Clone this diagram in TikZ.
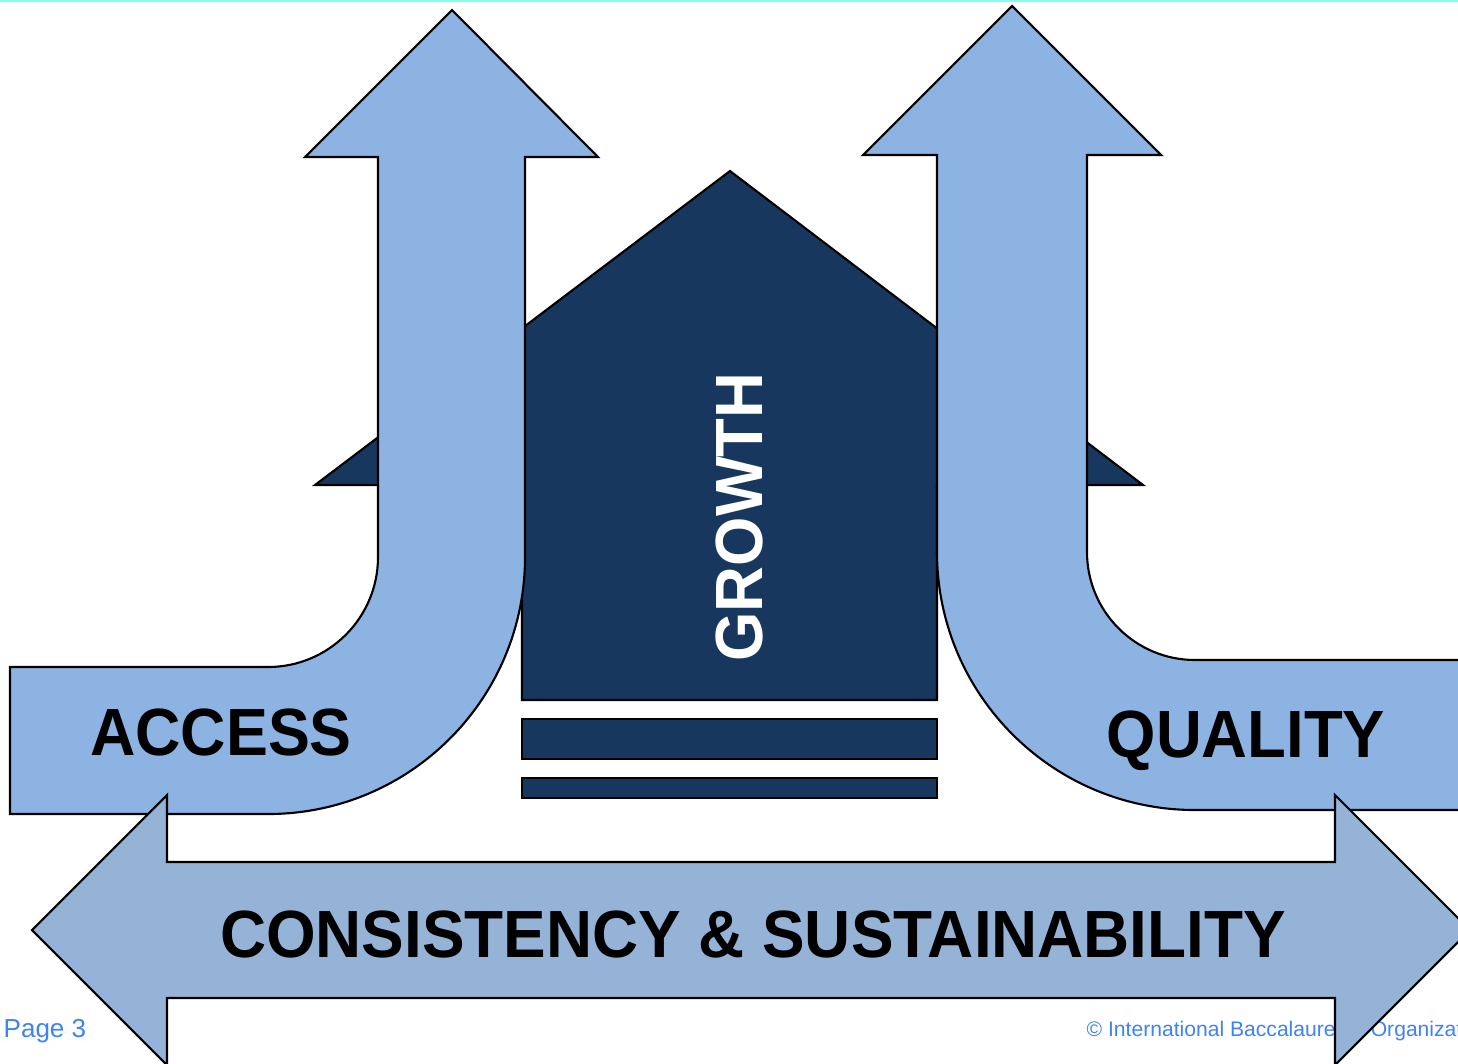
\documentclass[tikz,border=0pt]{standalone}
\usepackage{fontspec}
\setmainfont{Liberation Sans}
\usetikzlibrary{calc}
\definecolor{arrowblue}{HTML}{8DB3E2}
\definecolor{bandblue}{HTML}{95B3D7}
\definecolor{housenavy}{HTML}{18375E}
\definecolor{topcyan}{RGB}{127,255,240}
\definecolor{footblue}{RGB}{62,130,247}

\begin{document}
\begin{tikzpicture}[x=0.01cm, y=-0.01cm,
	outline/.style={draw=black, line width=0.6pt, line join=miter},
	word/.style={font=\fontsize{19}{19}\selectfont\bfseries, inner sep=0pt, anchor=base},
	foot/.style={font=\fontsize{7.4}{8}\selectfont, text=footblue, inner sep=0pt, anchor=base west}]
	\useasboundingbox (0,0) rectangle (1458,1063);

	\coordinate							(Apex)		at	(730,171);
	\coordinate							(AccessTip)	at	(452,10);
	\coordinate							(QualityTip)	at	(1012,6);
	\coordinate							(LeftTip)	at	(32,930);
	\coordinate							(RightTip)	at	(1470,930);

	\fill[topcyan] (0,0) rectangle (1458,2);

	\node[foot] (page) at (3,1037) {Page 3};
	\node[foot, font=\fontsize{6}{7}\selectfont] (copy) at (1086,1036) {© International Baccalaureate Organization};

	% house and steps
	\draw[outline, fill=housenavy] (315,485) -- (Apex) -- (1143,485) -- (937,485) -- (937,700) -- (522,700) -- (522,485) -- cycle;
	\draw[outline, fill=housenavy] (522,719) rectangle (937,759);
	\draw[outline, fill=housenavy] (522,778) rectangle (937,798);

	% access and quality
	\draw[outline, fill=arrowblue] (10,667) -- (268,667) arc[start angle=90, end angle=0, radius=110]
		-- (378,157) -- (305,157) -- (AccessTip) -- (598,157) -- (525,157)
		-- (525,557) arc[start angle=0, end angle=90, radius=257] -- (10,814) -- cycle;
	\draw[outline, fill=arrowblue] (1470,660) -- (1195,660) arc[start angle=90, end angle=180, radius=108]
		-- (1087,155) -- (1161,155) -- (QualityTip) -- (863,155) -- (937,155)
		-- (937,552) arc[start angle=180, end angle=90, radius=258] -- (1470,810) -- cycle;

	\node[word, text=white, rotate=90] (growth) at (762,517) {\scalebox{0.95}[1]{GROWTH}};
	\node[word] (access) at (221,755) {\scalebox{0.94}[1]{ACCESS}};
	\node[word] (quality) at (1246,757) {\scalebox{0.95}[1]{QUALITY}};

	% consistency band
	\draw[outline, fill=bandblue] (LeftTip) -- (167,795) -- (167,862) -- (1335,862) -- (1335,795) -- (RightTip)
		-- (1335,1065) -- (1335,998) -- (167,998) -- (167,1065) -- cycle;
	\node[word] (band) at (753,957) {\scalebox{0.955}[1]{CONSISTENCY \& SUSTAINABILITY}};

\end{tikzpicture}
\end{document}
